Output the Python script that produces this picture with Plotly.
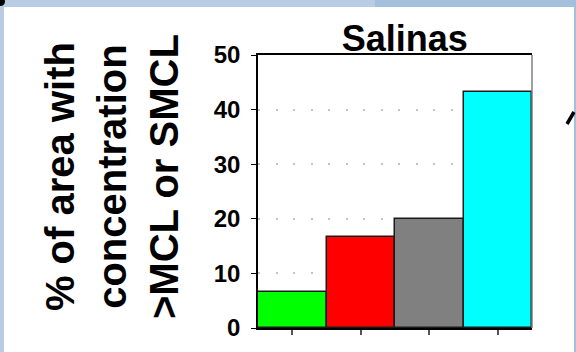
import plotly.graph_objects as go

# Share of area exceeding MCL/SMCL, by category
categories = ["A", "B", "C", "D"]
values = [6.6, 16.6, 20.0, 43.3]
bar_colors = ["#00ff00", "#ff0000", "#808080", "#00ffff"]
y_ticks = [0, 10, 20, 30, 40, 50]
title_text = "Salinas"
y_title_lines = ["% of area with", "concentration", ">MCL or SMCL"]

W, H = 576, 352
L, R, T, B = 258, 44, 55, 24
plot_w = W - L - R
plot_h = H - T - B

FONT = "Liberation Sans, Arial, sans-serif"

fig = go.Figure(
    go.Bar(
        x=categories,
        y=values,
        marker=dict(color=bar_colors, line=dict(color="#1a1a1a", width=1.5)),
        hoverinfo="skip",
    )
)

fig.update_layout(
    width=W,
    height=H,
    margin=dict(l=L, r=R, t=T, b=B),
    paper_bgcolor="#b8cce4",
    plot_bgcolor="white",
    bargap=0,
    showlegend=False,
    title=dict(
        text=f"<b>{title_text}</b>",
        font=dict(family=FONT, size=36, color="black"),
        x=404.7 / W,
        xref="container",
        xanchor="center",
        y=1 - 38 / H,
        yref="container",
        yanchor="middle",
    ),
)

fig.update_xaxes(
    range=[-0.5, len(categories) - 0.5],
    showline=True,
    linecolor="black",
    linewidth=1.5,
    mirror=True,
    showgrid=False,
    ticks="outside",
    ticklen=5,
    tickcolor="#555555",
    tickwidth=1.5,
    showticklabels=False,
    zeroline=False,
)

fig.update_yaxes(
    range=[0, 50],
    tickvals=y_ticks,
    ticktext=[f"<b>{v}</b>" for v in y_ticks],
    tickfont=dict(family=FONT, size=24, color="black"),
    ticks="outside",
    ticklen=5,
    tickcolor="black",
    tickwidth=1.2,
    ticklabelstandoff=6,
    showline=True,
    linecolor="black",
    linewidth=1.5,
    showgrid=True,
    gridcolor="#c4c4c4",
    gridwidth=1.5,
    griddash="2px,15.5px",
    zeroline=False,
)

shapes = [
    # white slide panel behind the chart
    dict(type="rect", xref="paper", yref="paper", layer="below",
         x0=(4 - L) / plot_w, x1=(574 - L) / plot_w,
         y0=(H - B - H) / plot_h, y1=(H - B - 7) / plot_h,
         fillcolor="white", line=dict(width=0)),
    # darker band on the right part of the top strip
    dict(type="rect", xref="paper", yref="paper", layer="below",
         x0=(375 - L) / plot_w, x1=(W - L) / plot_w,
         y0=(H - B - 7) / plot_h, y1=(H - B) / plot_h,
         fillcolor="#a3bfdc", line=dict(width=0)),
    # right strip
    dict(type="rect", xref="paper", yref="paper", layer="below",
         x0=(574 - L) / plot_w, x1=(W - L) / plot_w,
         y0=(H - B - H) / plot_h, y1=(H - B) / plot_h,
         fillcolor="#a3bfdc", line=dict(width=0)),
    # right border of the plot frame
    dict(type="line", xref="paper", yref="paper",
         x0=1, x1=1, y0=0, y1=1,
         line=dict(color="#808080", width=1.5)),
    # arrow fragment at the right edge
    dict(type="line", xref="paper", yref="paper",
         x0=(567 - L) / plot_w, x1=(574 - L) / plot_w,
         y0=(H - B - 124) / plot_h, y1=(H - B - 112) / plot_h,
         line=dict(color="black", width=3.5)),
    # dark corner mark at the top left
    dict(type="circle", xref="paper", yref="paper",
         x0=(-4 - L) / plot_w, x1=(5 - L) / plot_w,
         y0=(H - B - 6) / plot_h, y1=(H - B + 3) / plot_h,
         fillcolor="black", line=dict(width=0)),
]
fig.update_layout(shapes=shapes)

fig.add_annotation(
    text="<br>".join(f"<b>{s}</b>" for s in y_title_lines),
    xref="paper", yref="paper",
    x=(112 - L) / plot_w, y=(H - B - 177) / plot_h,
    xanchor="center", yanchor="middle",
    textangle=-90,
    showarrow=False,
    align="center",
    font=dict(family=FONT, size=40, color="black"),
)

fig.write_html("out.html")
